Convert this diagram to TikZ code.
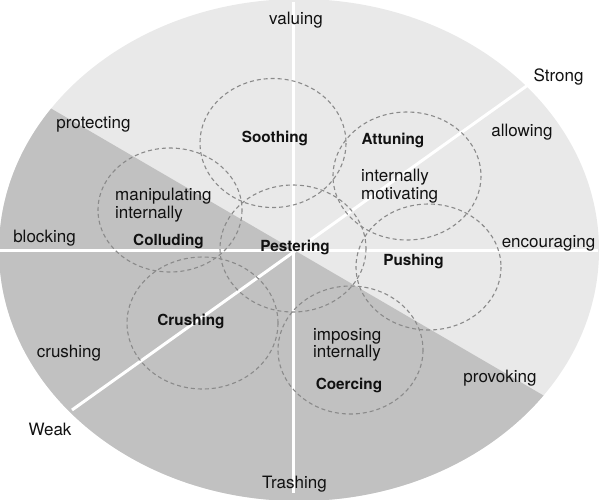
\documentclass[tikz,border=0pt]{standalone}
\usepackage{fontspec}
\setmainfont{TeX Gyre Heros}
\definecolor{lightfill}{HTML}{E9E9E9}
\definecolor{darkfill}{HTML}{C1C1C1}
\definecolor{dashgray}{HTML}{8A8A8A}
\definecolor{inkc}{HTML}{111111}
\newcommand{\mytwoline}[2]{\vtop{\hbox{#1}\hbox{#2}}}
\tikzset{
  regtext/.style={inner sep=0pt, text=inkc, font=\fontsize{17}{17.5}\selectfont},
  boldtext/.style={inner sep=0pt, text=inkc, font=\fontsize{15.3}{17}\selectfont\bfseries},
  axisline/.style={draw=white, line width=3pt},
  zone/.style={draw=dashgray, line width=1.1pt, dash pattern=on 4pt off 3pt},
}
\begin{document}
\begin{tikzpicture}[x=1pt,y=-1pt]
\useasboundingbox (0,0) rectangle (600,499);
% outer ellipse
\fill[lightfill] (299,250) ellipse [x radius=300, y radius=251];
\begin{scope}
  \clip (-107,16.4) -- (693,482.6) -- (693,600) -- (-107,600) -- cycle;
  \fill[darkfill] (299,250) ellipse [x radius=300, y radius=251];
\end{scope}
% axes
\coordinate (vtop) at (293,2);
\coordinate (vbot) at (293,493);
\coordinate (hleft) at (0,250);
\coordinate (hright) at (598,250);
\coordinate (weakend) at (72,410);
\coordinate (strongend) at (528,85);
\draw[axisline] (vtop) -- (vbot);
\draw[axisline] (hleft) -- (hright);
\draw[axisline] (weakend) -- (strongend);
% dashed zones
\draw[zone] (273,143) ellipse [x radius=73, y radius=64.5];
\draw[zone] (407,176) ellipse [x radius=74, y radius=64];
\draw[zone] (170,210) ellipse [x radius=72, y radius=62];
\draw[zone] (293,248.5) ellipse [x radius=73, y radius=63.5];
\draw[zone] (428.5,267) ellipse [x radius=72.5, y radius=63];
\draw[zone] (202.5,323) ellipse [x radius=75.5, y radius=66];
\draw[zone] (350.5,350) ellipse [x radius=72.5, y radius=64];
% outer labels
\node[regtext, anchor=base] (valuing) at (296,24) {valuing};
\node[regtext, anchor=base] (strong) at (558.5,81) {Strong};
\node[regtext, anchor=base] (allowing) at (522,136) {allowing};
\node[regtext, anchor=base] (encouraging) at (548.5,247) {encouraging};
\node[regtext, anchor=base] (protecting) at (93.5,128) {protecting};
\node[regtext, anchor=base] (blocking) at (44.5,242) {blocking};
\node[regtext, anchor=base] (crushingl) at (69,357) {crushing};
\node[regtext, anchor=base] (weak) at (50,435) {Weak};
\node[regtext, anchor=base] (trashing) at (294.5,488) {Trashing};
\node[regtext, anchor=base] (provoking) at (500,382.5) {provoking};
% inner labels
\node[regtext, anchor=base west] (manip) at (115,200.5) {\mytwoline{manipulating}{internally}};
\node[regtext, anchor=base west] (motiv) at (361,181.5) {\mytwoline{internally}{motivating}};
\node[regtext, anchor=base west] (impos) at (313,340) {\mytwoline{imposing}{internally}};
\node[boldtext, anchor=base] (soothing) at (275,142) {Soothing};
\node[boldtext, anchor=base] (attuning) at (393,144) {Attuning};
\node[boldtext, anchor=base] (colluding) at (168.5,245) {Colluding};
\node[boldtext, anchor=base] (pestering) at (295,251.5) {Pestering};
\node[boldtext, anchor=base] (pushing) at (413.5,265) {Pushing};
\node[boldtext, anchor=base] (crushing) at (191,325) {Crushing};
\node[boldtext, anchor=base] (coercing) at (349,389) {Coercing};
\end{tikzpicture}
\end{document}
